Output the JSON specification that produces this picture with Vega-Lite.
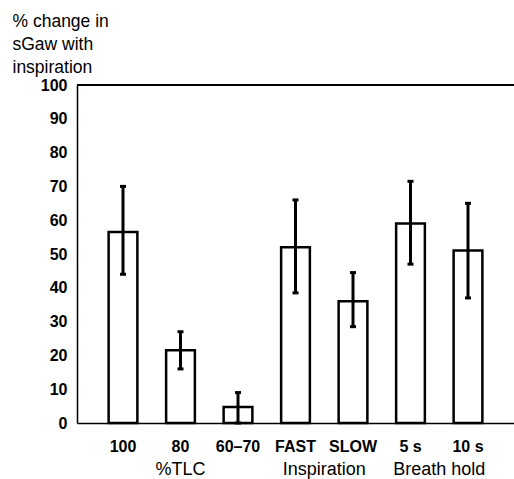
{
  "$schema": "https://vega.github.io/schema/vega-lite/v6.json",
  "width": 437,
  "height": 338,
  "autosize": "none",
  "padding": {"left": 77, "top": 85, "right": 0, "bottom": 56},
  "background": "white",
  "config": {
    "view": {"stroke": null},
    "font": "Liberation Sans",
    "axisY": {"labelOverlap": false, "tickCount": 11, "labelBound": false},
    "axisX": {"labelOverlap": false}
  },
  "data": {
    "values": [
      {"cat": "100", "value": 56.5, "lo": 44, "hi": 70},
      {"cat": "80", "value": 21.5, "lo": 16, "hi": 27},
      {"cat": "60–70", "value": 4.7, "lo": 0, "hi": 9},
      {"cat": "FAST", "value": 52, "lo": 38.5, "hi": 66},
      {"cat": "SLOW", "value": 36, "lo": 28.5, "hi": 44.5},
      {"cat": "5 s", "value": 59, "lo": 47, "hi": 71.5},
      {"cat": "10 s", "value": 51, "lo": 37, "hi": 65}
    ]
  },
  "layer": [
    {
      "mark": {"type": "bar", "fill": "white", "stroke": "black", "strokeWidth": 2.5},
      "encoding": {
        "x": {
          "field": "cat", "type": "nominal", "sort": null,
          "scale": {"paddingInner": 0.5, "paddingOuter": 0.55},
          "axis": {
            "title": null, "labelAngle": 0, "ticks": false, "domainColor": "black", "domainWidth": 1.5,
            "labelFontWeight": "bold", "labelFontSize": 16, "labelPadding": 15, "labelColor": "black",
            "labelOverlap": false
          }
        },
        "y": {
          "field": "value", "type": "quantitative",
          "scale": {"domain": [0, 100], "nice": false},
          "axis": {
            "values": [0, 10, 20, 30, 40, 50, 60, 70, 80, 90, 100],
            "labelOverlap": false,
            "grid": false, "ticks": false, "domainColor": "black", "domainWidth": 1.5,
            "labelFontWeight": "bold", "labelFontSize": 16, "labelPadding": 10, "labelColor": "black",
            "title": ["% change in", "sGaw with", "inspiration"],
            "titleAngle": 0, "titleAlign": "left", "titleBaseline": "top",
            "titleX": -65, "titleY": -73, "titleFontSize": 17.5, "titleFontWeight": "normal",
            "titleLineHeight": 23, "titleColor": "black"
          }
        }
      }
    },
    {
      "mark": {"type": "rule", "strokeWidth": 3, "color": "black"},
      "encoding": {
        "x": {"field": "cat", "type": "nominal", "sort": null},
        "y": {"field": "lo", "type": "quantitative"},
        "y2": {"field": "hi"}
      }
    },
    {
      "mark": {"type": "tick", "size": 6, "thickness": 3, "color": "black", "orient": "horizontal", "opacity": 1},
      "encoding": {
        "x": {"field": "cat", "type": "nominal", "sort": null},
        "y": {"field": "lo", "type": "quantitative"}
      }
    },
    {
      "mark": {"type": "tick", "size": 6, "thickness": 3, "color": "black", "orient": "horizontal", "opacity": 1},
      "encoding": {
        "x": {"field": "cat", "type": "nominal", "sort": null},
        "y": {"field": "hi", "type": "quantitative"}
      }
    },
    {
      "mark": {"type": "rule", "strokeWidth": 1.5, "color": "black"},
      "encoding": {"y": {"datum": 100}}
    },
    {
      "data": {"values": [{"cat": "80", "label": "%TLC"}]},
      "mark": {"type": "text", "fontSize": 18, "baseline": "middle", "dy": 47, "color": "black"},
      "encoding": {
        "x": {"field": "cat", "type": "nominal", "sort": null, "bandPosition": 0.5},
        "y": {"datum": 0},
        "text": {"field": "label"}
      }
    },
    {
      "data": {"values": [{"cat": "FAST", "label": "Inspiration"}, {"cat": "5 s", "label": "Breath hold"}]},
      "mark": {"type": "text", "fontSize": 18, "baseline": "middle", "dy": 47, "color": "black"},
      "encoding": {
        "x": {"field": "cat", "type": "nominal", "sort": null, "bandPosition": 1.5},
        "y": {"datum": 0},
        "text": {"field": "label"}
      }
    }
  ]
}
